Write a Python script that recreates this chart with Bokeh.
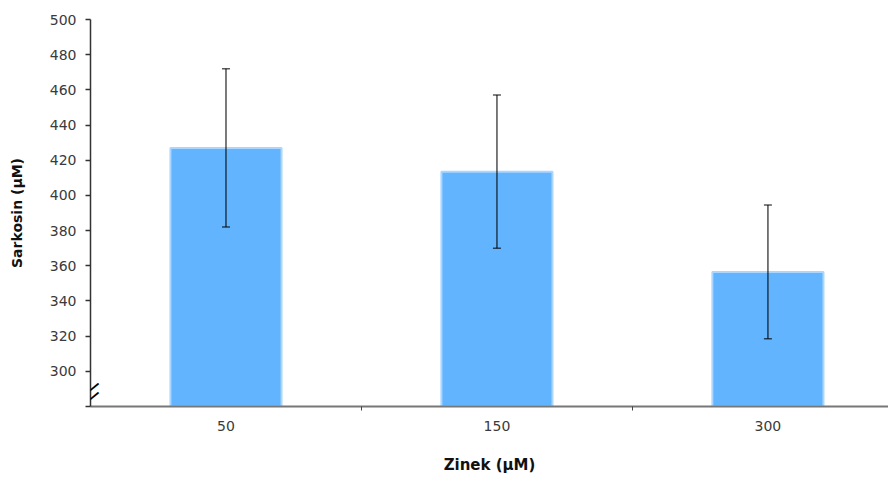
from bokeh.plotting import figure
from bokeh.models import (ColumnDataSource, Range1d, FixedTicker, Whisker, TeeHead, Label)
from bokeh.embed import file_html
from bokeh.resources import INLINE

categories = ["50", "150", "300"]
means = [427.0, 413.5, 356.5]
errors = [45.0, 43.6, 38.0]
y_ticks = [280, 300, 320, 340, 360, 380, 400, 420, 440, 460, 480, 500]
y_base = 280

xs = [i + 0.5 for i in range(len(categories))]
source = ColumnDataSource(dict(
    x=xs, top=means,
    upper=[m + e for m, e in zip(means, errors)],
    lower=[m - e for m, e in zip(means, errors)],
))

FONT = "DejaVu Sans"

p = figure(width=888, height=476, output_backend="svg", toolbar_location=None,
           x_range=Range1d(0, 2.945), y_range=Range1d(y_base, 500),
           min_border_left=90, min_border_top=19, min_border_right=0, min_border_bottom=70)
p.outline_line_color = None
p.grid.grid_line_color = None
p.background_fill_color = "white"

p.vbar(x="x", top="top", bottom=y_base, width=0.41, source=source,
       fill_color="#62B4FF", line_color="#AAD6FF", line_width=2)

head = dict(size=8, line_color="#000000", line_alpha=0.65, line_width=1.5)
w = Whisker(base="x", upper="upper", lower="lower", source=source,
            upper_head=TeeHead(**head), lower_head=TeeHead(**head),
            line_color="#000000", line_alpha=0.65, line_width=1.6, level="overlay")
p.add_layout(w)

# x axis
xa = p.xaxis[0]
xa.ticker = FixedTicker(ticks=xs, minor_ticks=[1, 2])
xa.major_label_overrides = {x: c for x, c in zip(xs, categories)}
xa.major_tick_out = 0
xa.major_tick_in = 0
xa.minor_tick_out = 4
xa.minor_tick_in = 0
xa.minor_tick_line_color = "#444444"
xa.axis_line_color = "#777777"
xa.axis_line_width = 2
xa.major_label_text_font = FONT
xa.major_label_text_font_size = "14px"
xa.major_label_text_color = "#3a3a3a"
xa.major_label_standoff = 10
xa.axis_label = "Zinek (µM)"
xa.axis_label_text_font = FONT
xa.axis_label_text_font_style = "bold"
xa.axis_label_text_font_size = "15px"
xa.axis_label_text_color = "#111111"
xa.axis_label_standoff = 22

# y axis
ya = p.yaxis[0]
ya.ticker = FixedTicker(ticks=y_ticks)
ya.major_label_overrides = {y_base: ""}
ya.minor_tick_line_color = None
ya.major_tick_out = 5
ya.major_tick_in = 0
ya.major_tick_line_color = "#333333"
ya.major_tick_line_width = 1.5
ya.axis_line_color = "#333333"
ya.axis_line_width = 1.5
ya.major_label_text_font = FONT
ya.major_label_text_font_size = "14px"
ya.major_label_text_color = "#3a3a3a"
ya.major_label_standoff = 9
ya.axis_label = "Sarkosin (µM)"
ya.axis_label_text_font = FONT
ya.axis_label_text_font_style = "bold"
ya.axis_label_text_font_size = "14px"
ya.axis_label_text_color = "#111111"
ya.axis_label_standoff = 22

# "0" label under the broken axis
p.add_layout(Label(x=0, y=y_base, x_offset=-14, y_offset=-20, text="0",
                   text_align="right", text_baseline="middle",
                   text_font=FONT, text_font_size="14px", text_color="#3a3a3a"))

# axis break marks
for yo in (20, 11):
    p.add_layout(Label(x=0, y=y_base, x_offset=3, y_offset=yo, text="—", angle=0.68,
                       text_align="center", text_baseline="middle",
                       text_font=FONT, text_font_style="bold", text_font_size="13px",
                       text_color="#000000"))

open("out.html", "w").write(file_html(p, INLINE))
